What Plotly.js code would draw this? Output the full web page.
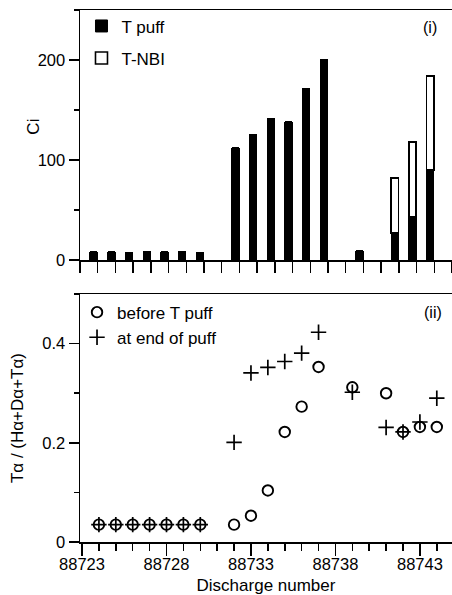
<!DOCTYPE html>
<html>
<head>
<meta charset="utf-8">
<script src="https://cdn.plot.ly/plotly-3.0.1.min.js"></script>
<style>
  html, body { margin: 0; padding: 0; background: #fff; }
  #chart { width: 452px; height: 595px; }
</style>
</head>
<body>
<div id="chart"></div>
<script>
// ---- Panel (i): tritium injected per discharge (Ci) ----
const barShots = [88724, 88725, 88726, 88727, 88728, 88729, 88730,
                  88732, 88733, 88734, 88735, 88736, 88737,
                  88739, 88741, 88742, 88743];
const tPuff    = [8, 8, 7, 8, 8, 8, 7,
                  112, 125, 141, 138, 171, 200,
                  9, 27, 43, 90];
const tNbi     = [0, 0, 0, 0, 0, 0, 0,
                  0, 0, 0, 0, 0, 0,
                  0, 55, 75, 94];

// ---- Panel (ii): Tα / (Hα+Dα+Tα) ----
const ratioShots = [88724, 88725, 88726, 88727, 88728, 88729, 88730,
                    88732, 88733, 88734, 88735, 88736, 88737,
                    88739, 88741, 88742, 88743, 88744];
const beforePuff = [0.035, 0.035, 0.035, 0.035, 0.035, 0.035, 0.035,
                    0.035, 0.053, 0.104, 0.222, 0.273, 0.353,
                    0.312, 0.300, 0.222, 0.232, 0.232];
const endOfPuff  = [0.035, 0.035, 0.035, 0.035, 0.035, 0.035, 0.035,
                    0.201, 0.341, 0.352, 0.364, 0.381, 0.423,
                    0.302, 0.231, 0.222, 0.242, 0.290];

const xTitle = 'Discharge number';
const y1Title = 'Ci';
const y2Title = 'Tα / (Hα+Dα+Tα)';

const FONT = 'Liberation Sans, Arial, Helvetica, sans-serif';
const INK = '#000000';

const traces = [
  {
    type: 'bar', name: 'T puff', x: barShots, y: tPuff,
    xaxis: 'x', yaxis: 'y', legend: 'legend', legendgroup: 'puff',
    width: 0.42, offset: -0.44,
    marker: { color: INK, line: { color: INK, width: 1 } }
  },
  {
    type: 'bar', name: 'T-NBI', x: barShots, y: tNbi,
    xaxis: 'x', yaxis: 'y', legend: 'legend', legendgroup: 'nbi',
    width: 0.42, offset: -0.44,
    marker: { color: '#ffffff', line: { color: INK, width: 1.6 } }
  },
  {
    type: 'scatter', mode: 'markers', name: 'before T puff',
    x: ratioShots, y: beforePuff, xaxis: 'x2', yaxis: 'y2', legend: 'legend2',
    marker: { symbol: 'circle-open', size: 10.5, color: INK, line: { color: INK, width: 1.9 } }
  },
  {
    type: 'scatter', mode: 'markers', name: 'at end of puff',
    x: ratioShots, y: endOfPuff, xaxis: 'x2', yaxis: 'y2', legend: 'legend2',
    marker: { symbol: 'cross-thin-open', size: 11, color: INK, line: { color: INK, width: 1.7 } }
  }
];

const axisCommon = {
  showline: true, linecolor: INK, linewidth: 1.5,
  showgrid: false, zeroline: false,
  ticks: 'outside', tickcolor: INK, tickwidth: 1.5,
  tickfont: { family: FONT, size: 16.5, color: INK }
};

const layout = {
  width: 452, height: 595,
  margin: { l: 80, r: 0, t: 10, b: 53 },
  paper_bgcolor: '#ffffff', plot_bgcolor: '#ffffff',
  font: { family: FONT, size: 17, color: INK },
  barmode: 'stack',
  bargap: 0,
  showlegend: true,
  xaxis: Object.assign({}, axisCommon, {
    domain: [0, 1], anchor: 'y', range: [88723, 88744],
    tick0: 88723, dtick: 1, ticklen: 11, showticklabels: false, mirror: true
  }),
  yaxis: Object.assign({}, axisCommon, {
    domain: [0.530, 1], anchor: 'x', range: [0, 250],
    tick0: 0, dtick: 100, ticklen: 10,
    minor: { dtick: 50, ticks: 'outside', ticklen: 5, tickwidth: 1.5, tickcolor: INK, showgrid: false }
  }),
  xaxis2: Object.assign({}, axisCommon, {
    domain: [0, 1], anchor: 'y2', range: [88722.88, 88744.9],
    tick0: 88723, dtick: 5, ticklen: 12, mirror: true, tickformat: 'd',
    ticklabelstandoff: -5,
    minor: { dtick: 1, ticks: 'outside', ticklen: 7, tickwidth: 1.5, tickcolor: INK, showgrid: false },
    title: { text: xTitle, standoff: 10, font: { family: FONT, size: 17, color: INK } }
  }),
  yaxis2: Object.assign({}, axisCommon, {
    domain: [0, 0.466], anchor: 'x2', range: [0, 0.5],
    tick0: 0, dtick: 0.2, ticklen: 10,
    minor: { dtick: 0.1, ticks: 'outside', ticklen: 5, tickwidth: 1.5, tickcolor: INK, showgrid: false },
    title: { text: y2Title, standoff: 14, font: { family: FONT, size: 17, color: INK } }
  }),
  legend: {
    x: 0.004, y: 1.003, xanchor: 'left', yanchor: 'top',
    bgcolor: 'rgba(0,0,0,0)', borderwidth: 0,
    traceorder: 'grouped', tracegroupgap: 7,
    font: { family: FONT, size: 17, color: INK }
  },
  legend2: {
    x: -0.008, y: 0.465, xanchor: 'left', yanchor: 'top',
    bgcolor: 'rgba(0,0,0,0)', borderwidth: 0,
    traceorder: 'normal',
    font: { family: FONT, size: 17, color: INK }
  },
  annotations: [
    { text: y1Title, xref: 'paper', yref: 'paper', x: -0.126, y: 0.781,
      xanchor: 'center', yanchor: 'middle', textangle: -90, showarrow: false,
      font: { family: FONT, size: 17, color: INK } },
    { text: '(i)', xref: 'paper', yref: 'paper', x: 0.941, y: 0.968,
      xanchor: 'center', yanchor: 'middle', showarrow: false,
      font: { family: FONT, size: 16, color: INK } },
    { text: '(ii)', xref: 'paper', yref: 'paper', x: 0.949, y: 0.432,
      xanchor: 'center', yanchor: 'middle', showarrow: false,
      font: { family: FONT, size: 16, color: INK } }
  ]
};

Plotly.newPlot('chart', traces, layout, { displayModeBar: false, staticPlot: true });
</script>
</body>
</html>
